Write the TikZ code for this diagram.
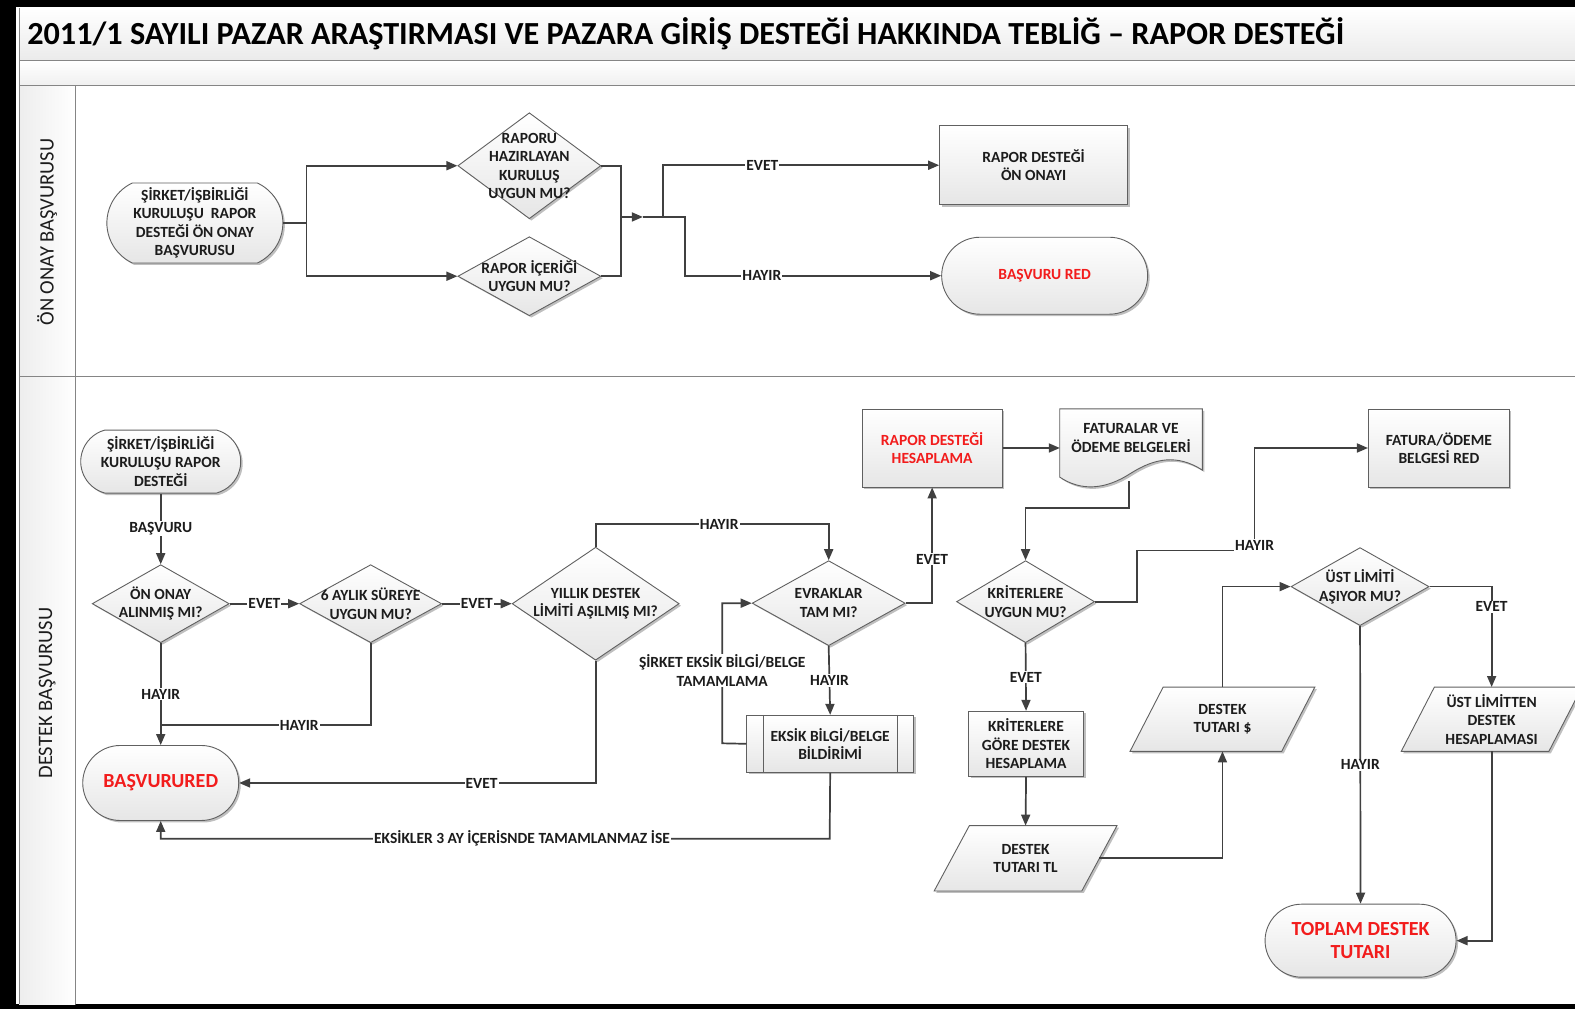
\documentclass[tikz,border=0pt]{standalone}
\usepackage{fontspec}
\setmainfont{Carlito}
\usetikzlibrary{shapes.geometric,shapes.misc,arrows.meta,shadows,calc}
\definecolor{lc}{HTML}{404040}
\definecolor{bc}{HTML}{606060}
\definecolor{fc}{HTML}{E6E6E6}
\definecolor{rc}{HTML}{F21C1C}
\definecolor{tc}{HTML}{1C1C1C}
\definecolor{frc}{HTML}{858585}
\newcommand\ndfont{\bfseries\fontsize{15.5}{18.5}\selectfont}
\newcommand\lgfont{\bfseries\fontsize{20}{23.5}\selectfont}
\newcommand\lnfont{\fontsize{20.5}{24}\selectfont}
\newcommand\ttlfont{\bfseries\fontsize{32.2}{36}\selectfont}
% parallelogram: name, cx, cy, width, height, slant, text
\newcommand\paranode[7]{%
  \path[base] ({#2-#4/2+#6},{#3-#5/2}) -- ({#2+#4/2},{#3-#5/2}) -- ({#2+#4/2-#6},{#3+#5/2}) -- ({#2-#4/2},{#3+#5/2}) -- cycle;
  \node[txt, inner sep=0, minimum width={#4-#6}, minimum height=#5] (#1) at (#2,#3) {#7};}
\begin{document}
\begin{tikzpicture}[x=1.0045pt,y=-1.0045pt,
  base/.style={draw=bc, line width=0.9pt, top color=white, bottom color=fc,
    drop shadow={shadow xshift=2pt, shadow yshift=-2pt, opacity=0.25, fill=black},
    inner sep=2pt, font=\ndfont, text=tc, align=center},
  term/.style={base, rounded rectangle},
  rectbox/.style={base, rectangle},
  dia/.style={base, diamond, inner sep=0pt},
  txt/.style={font=\ndfont, text=tc, align=center},
  line/.style={draw=lc, line width=1.7pt},
  arr/.style={line, -{Triangle[length=11pt,width=9pt]}},
  lab/.style={fill=white, inner sep=1pt, font=\ndfont, text=tc, align=center},
  redt/.style={text=rc}]
\useasboundingbox (0,0) rectangle (1568,1005);
% frame
\fill[black] (0,0) rectangle (1568,1005);
\fill[white] (16,7) rectangle (1568,1000);
\shade[top color=white, bottom color=black!8] (19,8) rectangle (1568,60);
\shade[top color=white, bottom color=black!6] (19,60) rectangle (1568,85);
\shade[left color=black!7, right color=white] (19,85) rectangle (75,1000);
\draw[frc, line width=1pt] (19,60) -- (1568,60) (19,85) -- (1568,85) (19,375) -- (1568,375)
  (75,85) -- (75,1000) (19,8) -- (19,1000);
\node[anchor=west, font=\ttlfont, text=black, inner sep=0] (title) at (27,34)
  {2011/1 SAYILI PAZAR ARAŞTIRMASI VE PAZARA GİRİŞ DESTEĞİ HAKKINDA TEBLİĞ – RAPOR DESTEĞİ};
\node[rotate=90, font=\lnfont, text=tc] (lane1) at (47,231) {ÖN ONAY BAŞVURUSU};
\node[rotate=90, font=\lnfont, text=tc] (lane2) at (47,690) {DESTEK BAŞVURUSU};

% ---------- top lane
\node[term, rounded rectangle arc length=130, minimum width=180, minimum height=80] (a1) at (194,222)
  {ŞİRKET/İŞBİRLİĞİ\\KURULUŞU\ \ RAPOR\\DESTEĞİ ÖN ONAY\\BAŞVURUSU};
\node[dia, minimum width=143, minimum height=106,
  label={[txt]center:{RAPORU\\HAZIRLAYAN\\KURULUŞ\\UYGUN MU?}}] (d1) at (527,165) {};
\node[dia, minimum width=143, minimum height=79,
  label={[txt]center:{RAPOR İÇERİĞİ\\UYGUN MU?}}] (d2) at (527,275) {};
\node[rectbox, minimum width=188, minimum height=79] (b1) at (1029,164.5) {RAPOR DESTEĞİ\\ÖN ONAYI};
\node[term, redt, minimum width=210, minimum height=77] (t1) at (1040,274.5) {BAŞVURU RED};

\coordinate (j1) at (305,222);
\coordinate (m1) at (618,216);
\coordinate (m2) at (640,216);
\coordinate (j2) at (660,216);
\coordinate (j3) at (682,216);
\draw[arr] (a1.east) -- (j1) |- (d1.west);
\draw[arr] (j1) |- (d2.west);
\draw[line] (d1.east) -| (m1);
\draw[line] (d2.east) -| (m1);
\draw[arr] (m1) -- (m2);
\draw[arr] (m2) -- (j2) |- node[lab, pos=0.68] {EVET} (b1.west);
\draw[arr] (j2) -- (j3) |- node[lab, pos=0.65] {HAYIR} (t1.west);

% ---------- bottom lane
\node[term, rounded rectangle arc length=150, minimum width=164, minimum height=63] (s2) at (160,459.5) {ŞİRKET/İŞBİRLİĞİ\\KURULUŞU RAPOR\\DESTEĞİ};
\node[dia, minimum width=137, minimum height=78,
  label={[txt]center:{ÖN ONAY\\ALINMIŞ MI?}}] (d3) at (160,601) {};
\node[dia, minimum width=142, minimum height=78,
  label={[txt]center:{6 AYLIK SÜREYE\\UYGUN MU?}}] (d4) at (369,601) {};
\node[dia, minimum width=167, minimum height=113,
  label={[txt]center:{YILLIK DESTEK\\LİMİTİ AŞILMIŞ MI?}}] (d5) at (593,601) {};
\node[term, redt, font=\lgfont, minimum width=160, minimum height=75] (t2) at (160,779.5) {BAŞVURURED};
\node[dia, minimum width=153, minimum height=85,
  label={[txt]center:{EVRAKLAR\\TAM MI?}}] (d6) at (825,600.5) {};
\node[rectbox, redt, minimum width=140, minimum height=78] (r) at (928,446) {RAPOR DESTEĞİ\\HESAPLAMA};
% document shape
\path[base] (1055,407) -- (1197,407) -- (1197,468) .. controls (1172,452) and (1150,456) .. (1126,471)
  .. controls (1100,488) and (1076,489) .. (1055,475) -- cycle;
\node[inner sep=0, minimum width=142, minimum height=78,
  label={[txt, yshift=10pt]center:{FATURALAR VE\\ÖDEME BELGELERİ}}] (f) at (1126,446) {};
\coordinate (fb) at (1124,479);
\node[dia, minimum width=138, minimum height=82,
  label={[txt]center:{KRİTERLERE\\UYGUN MU?}}] (d7) at (1021,599) {};
\node[rectbox, minimum width=141, minimum height=78] (fr) at (1432.5,446) {FATURA/ÖDEME\\BELGESİ RED};
\node[rectbox, minimum width=115, minimum height=65] (k) at (1021.5,740.5) {KRİTERLERE\\GÖRE DESTEK\\HESAPLAMA};
\paranode{tl}{1021}{854.5}{182}{65}{35}{DESTEK\\TUTARI TL}
\paranode{usd}{1217}{716}{184}{64}{33}{DESTEK\\TUTARI \$}
\node[dia, minimum width=138, minimum height=78,
  label={[txt]center:{ÜST LİMİTİ\\AŞIYOR MU?}}] (d8) at (1354,584) {};
\paranode{u}{1485}{716}{180}{64}{33}{ÜST LİMİTTEN\\DESTEK\\HESAPLAMASI}
\node[term, redt, font=\lgfont, minimum width=195, minimum height=73] (t3) at (1354.5,936.5) {TOPLAM DESTEK\\TUTARI};
\node[rectbox, minimum width=167, minimum height=57] (eb) at (826.5,740.5) {EKSİK BİLGİ/BELGE\\BİLDİRİMİ};
\draw[bc, line width=0.9pt] ([xshift=17pt]eb.north west) -- ([xshift=17pt]eb.south west)
  ([xshift=-17pt]eb.north east) -- ([xshift=-17pt]eb.south east);

% connectors
\coordinate (c1) at (160,722);
\coordinate (h1) at (593,522);
\coordinate (c3) at (1124,506);
\coordinate (c4) at (1132,599);
\coordinate (c5) at (1249,548);
\coordinate (c6) at (719,740);
\coordinate (c7) at (826,835);
\draw[arr] (s2.south) -- node[lab] {BAŞVURU} (d3.north);
\draw[arr] (d3.east) -- node[lab] {EVET} (d4.west);
\draw[arr] (d4.east) -- node[lab] {EVET} (d5.west);
\draw[arr] (d3.south) -- node[lab] {HAYIR} (t2.north);
\draw[line] (d4.south) |- node[lab, pos=0.67] {HAYIR} (c1);
\draw[arr] (d5.south) |- node[lab, pos=0.66] {EVET} (t2.east);
\draw[arr] (d5.north) -- (h1) -| node[lab, pos=0.265] {HAYIR} (d6.north);
\draw[arr] (d6.east) -| node[lab, pos=0.69] {EVET} (r.south);
\draw[arr] (r.east) -- (f.west);
\draw[arr] (fb) -- (c3) -| (d7.north);
\draw[arr] (d7.east) -- (c4) |- (c5) node[lab, yshift=5pt] {HAYIR} |- (fr.west);
\draw[arr] (d7.south) -- node[lab] {EVET} (k.north);
\draw[arr] (k.south) -- (tl.north);
\draw[arr] (tl.east) -| (usd.south);
\draw[arr] (usd.north) |- (d8.west);
\draw[arr] (d8.east) -| node[lab, pos=0.6] {EVET} (u.north);
\draw[arr] (d8.south) -- node[lab] {HAYIR} (t3.north);
\draw[arr] (u.south) |- (t3.east);
\draw[arr] (d6.south) -- node[lab] {HAYIR} (eb.north);
\draw[arr] (eb.west) -- (c6) |- node[lab, pos=0.26] {ŞİRKET EKSİK BİLGİ/BELGE\\TAMAMLAMA} (d6.west);
\draw[arr] (eb.south) -- (c7) -| node[lab, pos=0.23] {EKSİKLER 3 AY İÇERİSNDE TAMAMLANMAZ İSE} (t2.south);
\end{tikzpicture}
\end{document}
